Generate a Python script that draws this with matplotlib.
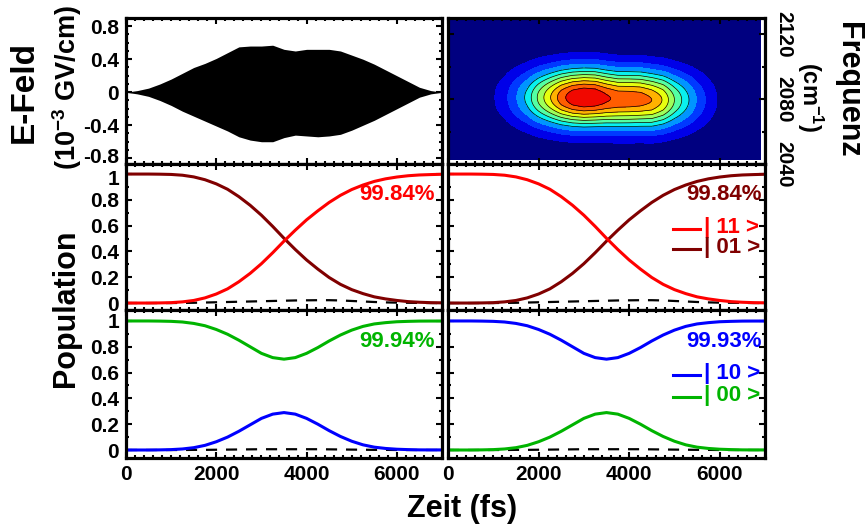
import numpy as np
import matplotlib
matplotlib.use('Agg')
import matplotlib.pyplot as plt
from matplotlib.ticker import MultipleLocator, FuncFormatter

plt.rcParams['font.family'] = ['Liberation Sans', 'DejaVu Sans']
plt.rcParams['font.weight'] = 'bold'
plt.rcParams['axes.unicode_minus'] = False
plt.rcParams['mathtext.fontset'] = 'custom'
plt.rcParams['mathtext.rm'] = 'Liberation Sans:bold'
plt.rcParams['mathtext.bf'] = 'Liberation Sans:bold'
plt.rcParams['mathtext.it'] = 'Liberation Sans:bold:italic'

# ---------------- data ----------------
time_fs = [0, 250, 500, 750, 1000, 1250, 1500, 1750, 2000, 2250, 2500, 2750,
           3000, 3250, 3500, 3750, 4000, 4250, 4500, 4750, 5000, 5250, 5500,
           5750, 6000, 6250, 6500, 6750, 7000]

# E-field envelope (10^-3 GV/cm)
efield_upper = [0, 0.02, 0.05, 0.10, 0.16, 0.23, 0.30, 0.35, 0.41, 0.48, 0.55, 0.56,
                0.56, 0.57, 0.52, 0.50, 0.52, 0.52, 0.52, 0.50, 0.45, 0.40, 0.34,
                0.27, 0.20, 0.13, 0.06, 0.02, 0]
efield_lower = [0, -0.02, -0.05, -0.10, -0.16, -0.23, -0.29, -0.35, -0.41, -0.47, -0.54, -0.58,
                -0.60, -0.60, -0.55, -0.52, -0.53, -0.54, -0.53, -0.51, -0.46, -0.40, -0.34,
                -0.27, -0.20, -0.13, -0.06, -0.02, 0]

# spectrogram (time-frequency) description
spec_time_fs = [0, 250, 500, 750, 1000, 1250, 1500, 1750, 2000, 2250, 2500, 2750,
                3000, 3250, 3500, 3750, 4000, 4250, 4500, 4750, 5000, 5250, 5500,
                5750, 6000, 6250, 6500, 6750, 6900]
spec_amplitude = [0, 0.005, 0.02, 0.05, 0.08, 0.15, 0.26, 0.39, 0.56, 0.71, 0.86, 0.96,
                  1.00, 0.98, 0.915, 0.875, 0.87, 0.855, 0.81, 0.71, 0.54, 0.40, 0.26,
                  0.15, 0.07, 0.04, 0.02, 0.01, 0]
spec_center_cm = [2081, 2081, 2081, 2081, 2081, 2081, 2081, 2081, 2081, 2081, 2081, 2081,
                  2081, 2081, 2080.5, 2080, 2080, 2080, 2079.5, 2079.5, 2079.5, 2079.5, 2079.5,
                  2079.5, 2079.5, 2079.5, 2079.5, 2079.5, 2079.5]
spec_width_cm = 18.0
spec_levels = [0.09, 0.18, 0.27, 0.36, 0.45, 0.54, 0.63, 0.72, 0.81, 0.90]

# populations, |11> <-> |01> transfer
pop_rise_a = [0, 0, 0, 0.001, 0.003, 0.009, 0.02, 0.04, 0.07, 0.11, 0.165, 0.23,
              0.305, 0.39, 0.48, 0.565, 0.645, 0.715, 0.78, 0.835, 0.88, 0.915, 0.943,
              0.963, 0.977, 0.987, 0.993, 0.996, 0.9984]
pop_fall_a = [1, 1, 1, 0.999, 0.997, 0.991, 0.978, 0.956, 0.924, 0.882, 0.825, 0.758,
              0.681, 0.594, 0.502, 0.415, 0.334, 0.263, 0.198, 0.145, 0.104, 0.073, 0.048,
              0.032, 0.020, 0.011, 0.006, 0.003, 0.0016]
leak_a = [0, 0, 0, 0, 0, 0.001, 0.002, 0.004, 0.006, 0.008, 0.010, 0.012,
          0.014, 0.016, 0.018, 0.020, 0.021, 0.022, 0.022, 0.020, 0.016, 0.012, 0.008,
          0.005, 0.003, 0.002, 0.001, 0, 0]

# populations, |00> / |10> (return to initial state)
pop_bump_b = [0, 0, 0, 0.001, 0.003, 0.008, 0.018, 0.036, 0.064, 0.10, 0.145, 0.195,
              0.245, 0.278, 0.29, 0.278, 0.245, 0.20, 0.15, 0.105, 0.068, 0.040, 0.022,
              0.012, 0.006, 0.003, 0.001, 0.0006, 0.0006]
pop_dip_b = [1, 1, 1, 0.999, 0.997, 0.992, 0.981, 0.963, 0.934, 0.897, 0.851, 0.8,
             0.749, 0.716, 0.704, 0.716, 0.749, 0.794, 0.845, 0.891, 0.929, 0.958, 0.977,
             0.987, 0.994, 0.997, 0.999, 0.9994, 0.9994]
leak_b = [0, 0, 0, 0, 0, 0, 0.001, 0.001, 0.002, 0.003, 0.004, 0.005,
          0.006, 0.006, 0.006, 0.006, 0.006, 0.006, 0.005, 0.004, 0.003, 0.002, 0.001,
          0.001, 0, 0, 0, 0, 0]

final_labels = ['99.84%', '99.84%', '99.94%', '99.93%']
state_labels = ['| 11 >', '| 01 >', '| 10 >', '| 00 >']

RED = '#ff0000'
DRED = '#800000'
BLUE = '#0000ff'
GREEN = '#00b400'

# ---------------- figure ----------------
W, H = 865, 529
fig = plt.figure(figsize=(W / 100, H / 100), dpi=100)


def add_ax(x0, x1, y0, y1):
    return fig.add_axes([x0 / W, 1 - y1 / H, (x1 - x0) / W, (y1 - y0) / H])


ax_e = add_ax(126, 442, 18, 164)
ax_s = add_ax(448, 765, 18, 164)
ax_m1 = add_ax(126, 442, 164, 310)
ax_m2 = add_ax(448, 765, 164, 310)
ax_b1 = add_ax(126, 442, 310, 458)
ax_b2 = add_ax(448, 765, 310, 458)

fmt = FuncFormatter(lambda v, p: f'{v:g}')
TICK_FS = 15


def style(ax):
    for sp in ax.spines.values():
        sp.set_linewidth(2.3)
    ax.tick_params(which='both', direction='in', top=True, right=True,
                   labelsize=TICK_FS, width=1.5, pad=5)
    ax.tick_params(which='major', length=4.5)
    ax.tick_params(which='minor', length=2.5)
    ax.set_xlim(0, 7000)
    ax.xaxis.set_major_locator(MultipleLocator(2000))
    ax.xaxis.set_minor_locator(MultipleLocator(200))
    ax.xaxis.set_major_formatter(fmt)
    ax.yaxis.set_major_formatter(fmt)


def skip_fmt(skip):
    return FuncFormatter(lambda v, p: '' if abs(v - skip) < 1e-6 else f'{v:g}')


def side_label(ax, value, text, dy):
    ax.annotate(text, xy=(0, value), xycoords=ax.get_yaxis_transform(),
                xytext=(-5, dy), textcoords='offset points', ha='right',
                va='center_baseline', fontsize=TICK_FS, fontweight='bold')


t = np.array(time_fs)

# E-field
ax_e.fill_between(t, efield_lower, efield_upper, color='black', lw=0)
ax_e.axhline(0, color='black', lw=0.8)
style(ax_e)
ax_e.set_ylim(-0.87, 0.9)
ax_e.yaxis.set_major_locator(MultipleLocator(0.4))
ax_e.yaxis.set_minor_locator(MultipleLocator(0.1))
ax_e.yaxis.set_major_formatter(skip_fmt(-0.8))
side_label(ax_e, -0.8, '-0.8', 2.2)
ax_e.tick_params(labelbottom=False)

# spectrogram
ts = np.array(spec_time_fs)
freq = np.linspace(2043, 2130, 160)
T, F = np.meshgrid(ts, freq)
Z = np.array(spec_amplitude)[None, :] * np.exp(
    -((F - np.array(spec_center_cm)[None, :]) / spec_width_cm) ** 2)
band_colors = plt.get_cmap('jet')(np.linspace(0, 0.9, len(spec_levels) + 1))
ax_s.contourf(T, F, Z, levels=[-1] + spec_levels + [2], colors=band_colors)
ax_s.contour(T, F, Z, levels=spec_levels[3:], colors='black', linewidths=0.5)
style(ax_s)
ax_s.set_ylim(2040, 2130)
ax_s.yaxis.set_major_locator(MultipleLocator(40))
ax_s.yaxis.set_minor_locator(MultipleLocator(20))
ax_s.tick_params(labelbottom=False, labelleft=False, labelright=True, pad=7)
for lab in ax_s.get_yticklabels():
    lab.set_rotation(-90)
    lab.set_va('center')
    lab.set_ha('left')

# populations
panels = [
    (ax_m1, pop_fall_a, DRED, pop_rise_a, RED, leak_a, final_labels[0], RED, (-0.054, 1.078)),
    (ax_m2, pop_rise_a, DRED, pop_fall_a, RED, leak_a, final_labels[1], DRED, (-0.054, 1.078)),
    (ax_b1, pop_bump_b, BLUE, pop_dip_b, GREEN, leak_b, final_labels[2], GREEN, (-0.062, 1.085)),
    (ax_b2, pop_bump_b, GREEN, pop_dip_b, BLUE, leak_b, final_labels[3], BLUE, (-0.062, 1.085)),
]
for ax, y1, c1, y2, c2, leak, lab, lc, ylim in panels:
    ax.plot(t, leak, color='black', lw=1.6, ls=(0, (5, 4)))
    ax.plot(t, y1, color=c1, lw=2.2)
    ax.plot(t, y2, color=c2, lw=2.2)
    style(ax)
    ax.set_ylim(*ylim)
    ax.yaxis.set_major_locator(MultipleLocator(0.2))
    ax.yaxis.set_minor_locator(MultipleLocator(0.1))
    xr = 0.978 if ax in (ax_m1, ax_b1) else 0.99
    ax.text(xr, 0.79, lab, color=lc, fontsize=16, fontweight='bold',
            ha='right', va='center', transform=ax.transAxes)

ax_m1.yaxis.set_major_formatter(skip_fmt(1.0))
side_label(ax_m1, 1.0, '1', -2.2)

for ax in (ax_m1, ax_m2):
    ax.tick_params(labelbottom=False)
for ax in (ax_m2, ax_b2):
    ax.tick_params(labelleft=False)

# legends
for ax, items, ys in [(ax_m2, [(state_labels[0], RED), (state_labels[1], DRED)], (0.555, 0.418)),
                      (ax_b2, [(state_labels[2], BLUE), (state_labels[3], GREEN)], (0.561, 0.412))]:
    for (txt, col), yy in zip(items, ys):
        ax.plot([0.71, 0.795], [yy, yy], color=col, lw=2.2, transform=ax.transAxes)
        ax.text(0.808, yy + 0.012, txt, color=col, fontsize=16, fontweight='bold',
                ha='left', va='center', transform=ax.transAxes)

# axis titles
fig.text(24 / W, 1 - 92 / H, 'E-Feld', rotation=90, ha='center', va='center',
         fontsize=24, fontweight='bold')
fig.text(67 / W, 1 - 88 / H, r'(10$^{-3}$ GV/cm)', rotation=90, ha='center', va='center',
         fontsize=19.5, fontweight='bold')
fig.text(66 / W, 1 - 308 / H, 'Population', rotation=90, ha='center', va='center',
         fontsize=22, fontweight='bold')
fig.text(462 / W, 1 - 509 / H, 'Zeit (fs)', ha='center', va='center',
         fontsize=22, fontweight='bold')
fig.text(848 / W, 1 - 90 / H, 'Frequenz', rotation=-90, ha='center', va='center',
         fontsize=22, fontweight='bold')
fig.text(810 / W, 1 - 97 / H, r'(cm$^{-1}$)', rotation=-90, ha='center', va='center',
         fontsize=17, fontweight='bold')

fig.savefig('out.png', dpi=100)
